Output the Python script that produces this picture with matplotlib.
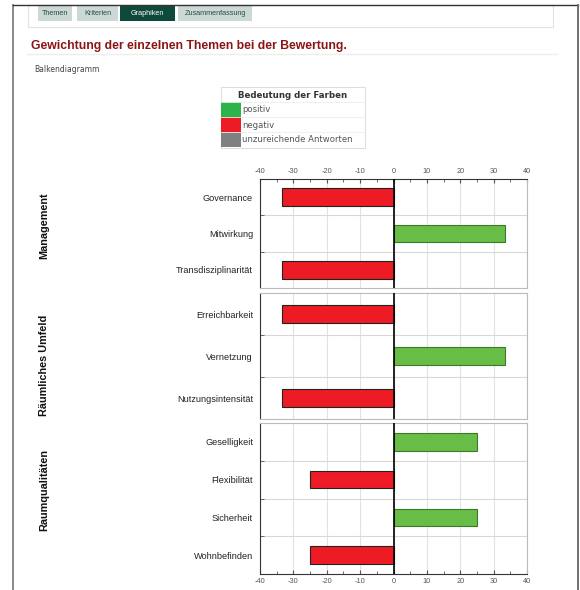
import matplotlib.pyplot as plt
from matplotlib.patches import Rectangle
from matplotlib.lines import Line2D

plt.rcParams['font.family'] = ['Liberation Sans', 'DejaVu Sans']
plt.rcParams['axes.unicode_minus'] = False

W, H = 580, 590

groups = ["Management", "Räumliches Umfeld", "Raumqualitäten"]
group_items = [
    ["Governance", "Mitwirkung", "Transdisziplinarität"],
    ["Erreichbarkeit", "Vernetzung", "Nutzungsintensität"],
    ["Geselligkeit", "Flexibilität", "Sicherheit", "Wohnbefinden"],
]
group_values = [
    [-33.3, 33.3, -33.3],
    [-33.3, 33.3, -33.3],
    [25, -25, 25, -25],
]
legend_labels = ["positiv", "negativ", "unzureichende Antworten"]
legend_colors = ["#2db34a", "#ed1c24", "#808080"]
tabs = ["Themen", "Kriterien", "Graphiken", "Zusammenfassung"]

bar_pos = "#67bd45"
bar_neg = "#ed1c24"


def fx(px):
    return px / W


def fy(py):
    return 1 - py / H


fig = plt.figure(figsize=(W / 100, H / 100), dpi=100)
fig.patch.set_facecolor("white")

# page frame
fig.add_artist(Line2D([fx(13), fx(13)], [fy(5), fy(590)], color="#808080", lw=1.3))
fig.add_artist(Line2D([fx(13), fx(578)], [fy(5), fy(5)], color="#333333", lw=1.0))
fig.add_artist(Line2D([fx(578), fx(578)], [fy(5), fy(590)], color="#666666", lw=1.3))

# tab panel
fig.add_artist(Rectangle((fx(28), fy(27)), fx(553 - 28), 22 / H, facecolor="white",
                         edgecolor="#e2e2e2", lw=0.8))
tab_x = [(38, 72), (77, 118), (120, 175), (178, 252)]
for name, (x0, x1) in zip(tabs, tab_x):
    active = name == "Graphiken"
    fig.add_artist(Rectangle((fx(x0), fy(21)), fx(x1 - x0), 16 / H,
                             facecolor="#0e4a3c" if active else "#cbd9d6", edgecolor="none"))
    fig.text(fx((x0 + x1) / 2), fy(13.5), name, ha="center", va="center", fontsize=5.2,
             color="white" if active else "#2d4a44")

fig.text(fx(31), fy(46), "Gewichtung der einzelnen Themen bei der Bewertung.", fontsize=8.85,
         fontweight="bold", color="#8b1414", ha="left", va="center")
fig.add_artist(Line2D([fx(27), fx(557)], [fy(54), fy(54)], color="#eeeeee", lw=1.0))
fig.text(fx(34), fy(69), "Balkendiagramm", fontsize=5.5, color="#444444", ha="left", va="center",
         family=["DejaVu Sans"])

# colour legend table
fig.add_artist(Rectangle((fx(221), fy(148)), fx(365 - 221), 61 / H, facecolor="white",
                         edgecolor="#dddddd", lw=0.8))
fig.text(fx(293), fy(95), "Bedeutung der Farben", fontsize=6.2, fontweight="bold", color="#333333",
         ha="center", va="center", family=["DejaVu Sans"])
for i, (lab, col) in enumerate(zip(legend_labels, legend_colors)):
    top = 102 + i * 15
    fig.add_artist(Line2D([fx(221), fx(365)], [fy(top), fy(top)], color="#eeeeee", lw=0.6))
    fig.add_artist(Rectangle((fx(221), fy(top + 15)), fx(20), 15 / H, facecolor=col, edgecolor="none"))
    fig.text(fx(242), fy(top + 8), lab, fontsize=6.1, color="#555555", ha="left", va="center",
             family=["DejaVu Sans"])

# chart groups: (top px, bottom px)
group_box = [(179, 288), (293, 419), (423, 574)]
group_label_y = [226, 365, 490]

for gi, (name, items, vals) in enumerate(zip(groups, group_items, group_values)):
    top, bot = group_box[gi]
    ax = fig.add_axes([fx(260), fy(bot), fx(527 - 260), (bot - top) / H])
    n = len(items)
    row_px = (bot - top) / n
    ys = list(range(n))
    colors = [bar_pos if v > 0 else bar_neg for v in vals]
    edges = ["#3d7a2a" if v > 0 else "#222222" for v in vals]
    ax.barh(ys, vals, height=17.5 / row_px, color=colors, edgecolor=edges, linewidth=0.8, zorder=3)
    ax.axvline(0, color="black", lw=1.2, zorder=4)
    ax.set_xlim(-40, 40)
    ax.set_ylim(n - 0.5, -0.5)
    ax.set_yticks(ys)
    ax.set_yticklabels(items, fontsize=6.6, color="#222222")
    ax.set_yticks([i + 0.5 for i in range(n - 1)], minor=True)
    ax.tick_params(axis="y", which="major", length=0, pad=5)
    ax.tick_params(axis="y", which="minor", length=3, direction="in", color="#555555")
    ax.grid(axis="y", which="minor", color="#d8d8d8", lw=0.8, zorder=0)
    ax.set_xticks(range(-40, 41, 10))
    ax.set_xticks(range(-35, 40, 10), minor=True)
    ax.grid(axis="x", which="major", color="#e2e2e2", lw=0.8, zorder=0)
    for s in ax.spines.values():
        s.set_color("#bbbbbb")
        s.set_linewidth(0.8)
    ax.spines["left"].set_color("#333333")
    if gi == 0:
        ax.xaxis.tick_top()
        ax.spines["top"].set_color("#333333")
        ax.tick_params(axis="x", which="both", top=True, bottom=False, labeltop=True,
                       labelbottom=False, direction="in", labelsize=5.3, colors="#555555", pad=3)
        ax.tick_params(axis="x", which="major", length=3)
        ax.tick_params(axis="x", which="minor", length=2)
    elif gi == len(groups) - 1:
        ax.spines["bottom"].set_color("#333333")
        ax.tick_params(axis="x", which="both", direction="in", labelsize=5.3, colors="#555555", pad=3)
        ax.tick_params(axis="x", which="major", length=3)
        ax.tick_params(axis="x", which="minor", length=2)
    else:
        ax.tick_params(axis="x", which="both", length=0, labelbottom=False)
    fig.text(fx(44), fy(group_label_y[gi]), name, rotation=90, fontsize=7.8, fontweight="bold",
             color="#111111", ha="center", va="center")

fig.savefig("out.png", dpi=100, facecolor="white")
